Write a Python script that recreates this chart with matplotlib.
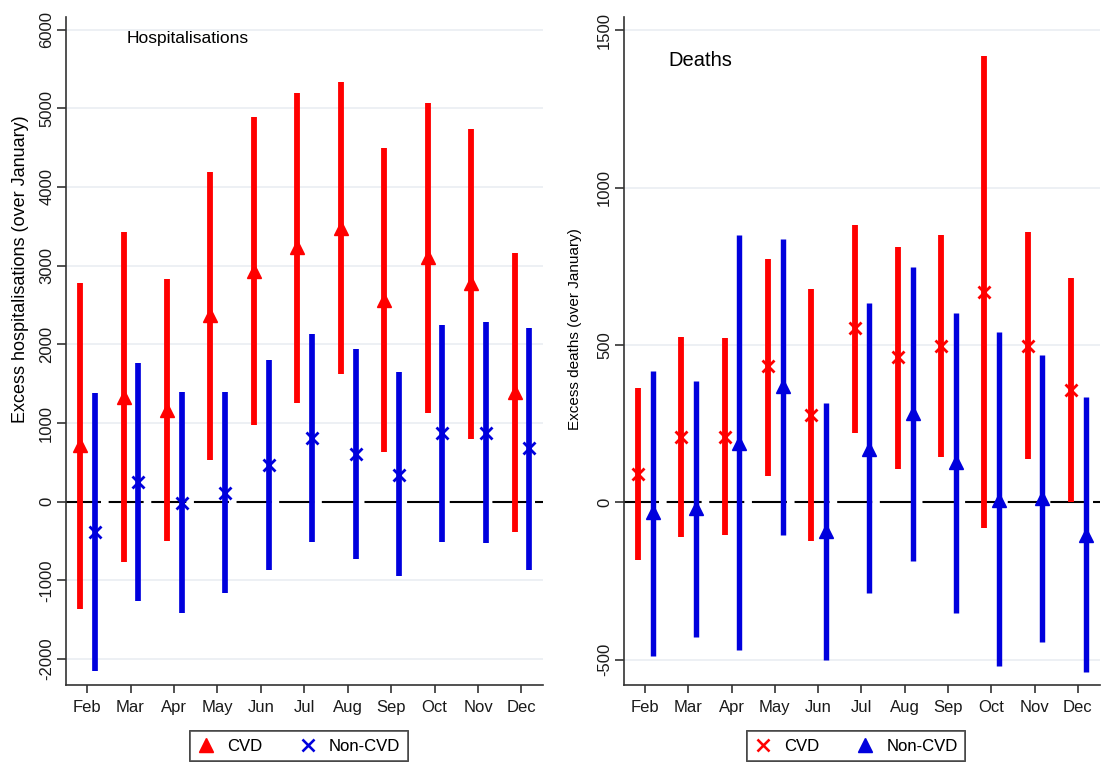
import numpy as np
import matplotlib
matplotlib.use('Agg')
import matplotlib.pyplot as plt
from matplotlib.lines import Line2D

months = ['Feb', 'Mar', 'Apr', 'May', 'Jun', 'Jul', 'Aug', 'Sep', 'Oct', 'Nov', 'Dec']

# Hospitalisations
hosp_cvd_est = [720, 1334, 1165, 2372, 2935, 3232, 3474, 2563, 3105, 2775, 1398]
hosp_cvd_lo = [-1360, -770, -495, 530, 975, 1258, 1619, 635, 1123, 793, -381]
hosp_cvd_hi = [2775, 3431, 2826, 4193, 4884, 5189, 5337, 4490, 5070, 4732, 3164]
hosp_non_est = [-381, 254, -20, 115, 466, 805, 606, 339, 869, 869, 678]
hosp_non_lo = [-2151, -1266, -1410, -1164, -868, -516, -724, -944, -508, -529, -868]
hosp_non_hi = [1377, 1766, 1390, 1398, 1800, 2131, 1940, 1652, 2245, 2283, 2211]

# Deaths
death_cvd_est = [89, 208, 208, 433, 277, 553, 461, 498, 669, 498, 357]
death_cvd_lo = [-184, -109, -105, 84, -122, 222, 105, 143, -80, 137, 0]
death_cvd_hi = [362, 526, 523, 772, 677, 881, 812, 849, 1418, 860, 712]
death_non_est = [-32, -19, 189, 370, -90, 171, 283, 129, 7, 13, -104]
death_non_lo = [-488, -427, -469, -105, -499, -289, -187, -351, -520, -444, -538]
death_non_hi = [418, 385, 848, 838, 315, 632, 749, 603, 540, 468, 334]

hosp_yticks = [-2000, -1000, 0, 1000, 2000, 3000, 4000, 5000, 6000]
death_yticks = [-500, 0, 500, 1000, 1500]

RED = '#ff0000'
BLUE = '#0000dd'

plt.rcParams['font.family'] = ['Liberation Sans', 'DejaVu Sans']
plt.rcParams['lines.scale_dashes'] = False

W, H = 1102, 763
fig = plt.figure(figsize=(W / 100, H / 100), dpi=100)
axL = fig.add_axes([66 / W, 78 / H, 477 / W, 668 / H])
axR = fig.add_axes([624 / W, 78 / H, 476 / W, 668 / H])


def style(ax, ylim, yticks, xlim):
    ax.set_xlim(xlim)
    ax.set_ylim(ylim)
    for s in ['top', 'right']:
        ax.spines[s].set_visible(False)
    for s in ['left', 'bottom']:
        ax.spines[s].set_color('#333333')
        ax.spines[s].set_linewidth(1.2)
    ax.set_yticks(yticks)
    ax.set_yticklabels([str(t) for t in yticks], rotation=90, va='center')
    ax.set_xticks(range(len(months)))
    ax.set_xticklabels(months)
    ax.tick_params(axis='both', colors='#333333', labelcolor='#1a1a1a',
                   labelsize=12, width=1.2)
    ax.tick_params(axis='y', length=6.5, pad=2)
    ax.tick_params(axis='x', length=6, pad=5)
    for t in yticks:
        if t != 0:
            ax.axhline(t, color='#eceff3', lw=1.3, zorder=0)
    ax.axhline(0, color='black', lw=1.5, zorder=1,
               linestyle=(0, (25.2, 5.5)))


def draw(ax, x, est, lo, hi, color, marker, lw):
    ax.vlines(x, lo, hi, color=color, lw=lw, zorder=3)
    if marker == '^':
        ax.plot(x, est, ls='none', marker='^', ms=10, color=color, zorder=4)
    else:
        ax.plot(x, est, ls='none', marker='x', ms=9, mew=2, color=color, zorder=4)


x = np.arange(len(months))
off_r, off_b = -0.16, 0.18

style(axL, (-2329, 6159), hosp_yticks, (-0.486, 10.495))
draw(axL, x + off_r, hosp_cvd_est, hosp_cvd_lo, hosp_cvd_hi, RED, '^', 4.2)
draw(axL, x + off_b, hosp_non_est, hosp_non_lo, hosp_non_hi, BLUE, 'x', 4.1)
axL.set_ylabel('Excess hospitalisations (over January)', fontsize=13, va='center')
axL.yaxis.set_label_coords((21 - 66) / 477, 0.622)
axL.text((127 - 66) / 477, (685 - 38) / 668, 'Hospitalisations', fontsize=12.5,
         ha='left', va='center', transform=axL.transAxes)

style(axR, (-580, 1542), death_yticks, (-0.485, 10.51))
draw(axR, x + off_r, death_cvd_est, death_cvd_lo, death_cvd_hi, RED, 'x', 4.2)
draw(axR, x + off_b, death_non_est, death_non_lo, death_non_hi, BLUE, '^', 3.9)
axR.set_ylabel('Excess deaths (over January)', fontsize=11, va='center')
axR.yaxis.set_label_coords((575 - 624) / 476, 0.533)
axR.text((668 - 624) / 476, (685 - 61) / 668, 'Deaths', fontsize=14.5,
         ha='left', va='center', transform=axR.transAxes)


def legend(anchor_x, h1, h2):
    lg = fig.legend([h1, h2], ['CVD', 'Non-CVD'], loc='upper left',
                    bbox_to_anchor=(anchor_x / W, 1 - 731 / H), ncol=2,
                    frameon=True, fancybox=False, edgecolor='#333333',
                    fontsize=12, handlelength=1.0, handletextpad=0.76,
                    columnspacing=2.26, borderpad=0.46, borderaxespad=0)
    lg.get_frame().set_linewidth(1.2)
    fig.add_artist(lg)


tri_r = Line2D([], [], ls='none', marker='^', ms=10, color=RED)
x_b = Line2D([], [], ls='none', marker='x', ms=9, mew=1.8, color=BLUE)
x_r = Line2D([], [], ls='none', marker='x', ms=9, mew=1.8, color=RED)
tri_b = Line2D([], [], ls='none', marker='^', ms=10, color=BLUE)
legend(190, tri_r, x_b)
legend(747, x_r, tri_b)

fig.savefig('out.png', dpi=100)
